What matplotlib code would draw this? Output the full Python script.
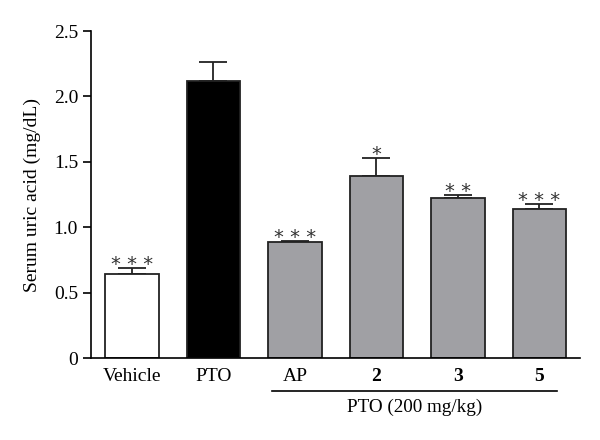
import matplotlib
matplotlib.use("Agg")
import matplotlib.pyplot as plt
import matplotlib.transforms as mtransforms

plt.rcParams["font.family"] = ["Liberation Serif", "DejaVu Serif"]

categories = ["Vehicle", "PTO", "AP", "2", "3", "5"]
means = [0.64, 2.12, 0.887, 1.394, 1.226, 1.137]
errors = [0.05, 0.14, 0.008, 0.132, 0.021, 0.04]
stars = ["***", "", "***", "*", "**", "***"]
colors = ["white", "black", "#a0a0a4", "#a0a0a4", "#a0a0a4", "#a0a0a4"]
bold_labels = ["2", "3", "5"]
group_label = "PTO (200 mg/kg)"

fig = plt.figure(figsize=(6, 4.4), dpi=100)
ax = fig.add_axes([0.152, 0.186, 0.815, 0.7435])

x = list(range(len(categories)))
ax.bar(x, means, width=0.66, color=colors, edgecolor="#222222",
       linewidth=1.3, zorder=2)
ax.errorbar(x, means, yerr=[[0] * len(errors), errors], fmt="none",
            ecolor="#222222", elinewidth=1.3, capsize=10, capthick=1.3,
            zorder=1)

for xi, m, e, s in zip(x, means, errors, stars):
    if s:
        ax.text(xi, m + e - 0.045, " ".join(s), ha="center", va="bottom",
                fontsize=14, color="#333333", family="DejaVu Sans")

ax.set_xlim(-0.5, 5.5)
ax.set_ylim(0, 2.5)
ax.set_yticks([0, 0.5, 1.0, 1.5, 2.0, 2.5])
ax.set_yticklabels(["0", "0.5", "1.0", "1.5", "2.0", "2.5"], fontsize=14)
ax.set_ylabel("Serum uric acid (mg/dL)", fontsize=14, labelpad=9)
ax.set_xticks(x)
ax.set_xticklabels(categories, fontsize=14)
for lbl in ax.get_xticklabels():
    if lbl.get_text() in bold_labels:
        lbl.set_fontweight("bold")
ax.tick_params(axis="x", length=0, pad=7)
ax.tick_params(axis="y", direction="out", length=6, width=1.2)
for side in ["top", "right"]:
    ax.spines[side].set_visible(False)
for side in ["left", "bottom"]:
    ax.spines[side].set_linewidth(1.2)

trans = mtransforms.blended_transform_factory(ax.transData, ax.transAxes)
ax.plot([1.72, 5.22], [-0.101, -0.101], color="black", linewidth=1.2,
        transform=trans, clip_on=False)
ax.text(3.47, -0.15, group_label, ha="center", va="center", fontsize=13.8,
        transform=trans)

fig.savefig("out.png", dpi=100)
